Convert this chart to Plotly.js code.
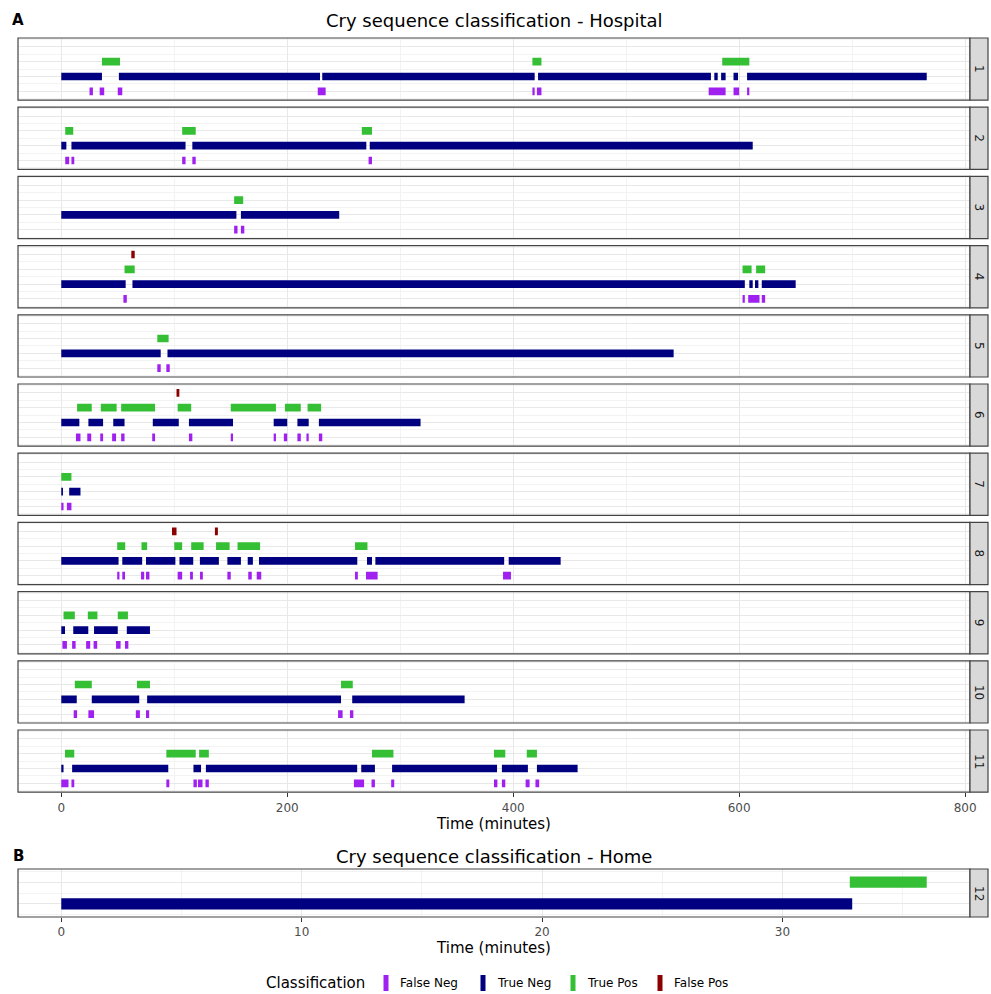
<!DOCTYPE html>
<html><head><meta charset="utf-8">
<script src="https://cdn.plot.ly/plotly-3.0.1.min.js"></script>
<style>body{margin:0;background:#fff}#chart{width:991px;height:994px}</style>
</head><body><div id="chart"></div>
<script>
// ---- DATA (minutes) : one entry per recording (1..11 hospital, 12 home) ----
const recordings = ['1','2','3','4','5','6','7','8','9','10','11','12'];
const classNames = ['False Neg','True Neg','True Pos','False Pos'];
const classColors = ['#a020f0','#000080','#35bf35','#8b0000'];

const trueNeg = [
  [[0,36],[51,229],[231,419],[422,575],[578,581],[584,588],[595,599],[607,766]],
  [[0,4.5],[9,110],[116,270],[273,612]],
  [[0,155],[159,246]],
  [[0,57],[63,605],[609,612],[614,617],[620,650]],
  [[0,88],[94,542]],
  [[0,16],[24,37],[46,56],[81,104],[113,152],[188,200],[209,219],[228,318]],
  [[0,1.5],[7,17]],
  [[0,50.7],[54,71.6],[75,101],[104.6,116.8],[122.7,139.5],[147,159],[165,169.6],[175,262],[270.6,275],[278,392],[396,442]],
  [[0,3.3],[10.6,23.9],[29,50],[58,78.5]],
  [[0,13.7],[27,69],[76,247.6],[257.5,357]],
  [[0,2],[9.6,94.7],[117,123.7],[128,261.9],[265.5,277.6],[292.8,385.7],[390,413],[421,457]],
  [[0,32.9]]
];
const truePos = [
  [[36,52],[417,425],[585,609]],
  [[3.5,10.6],[107,119],[266,275]],
  [[153,161]],
  [[56,65],[603,611],[615,623]],
  [[85,95]],
  [[14,27],[35,49],[53,83],[103,115],[150,190],[198,212],[218,230]],
  [[0,9]],
  [[49.5,56.6],[71,76],[100,107],[115,126],[137,149],[156,176],[260,271]],
  [[2,12],[23.5,32],[50,59]],
  [[12,27],[67,78.5],[247.6,258]],
  [[3.3,11.5],[93,119],[122,130.6],[275,294],[383,393],[412,421]],
  [[32.8,36]]
];
const falseNeg = [
  [[25,28],[34,38],[50,54],[227,234],[417,419],[421,425],[573,588],[595,600],[607,609]],
  [[3.5,7],[9,11.5],[107,110],[116,119],[272,275]],
  [[153,156],[159,162]],
  [[55,58],[603,605],[608,618],[620,623]],
  [[85,88],[93,96]],
  [[13,17],[23,26.5],[34.5,37],[45,48.5],[53,56],[80.5,83],[113,116],[150,152],[188,190],[197,200],[209,212],[217,219],[228,231]],
  [[0,2],[5,9]],
  [[49.5,51.5],[54,56.4],[70.6,73.4],[75,78],[103,107],[114,116.5],[122.8,125.3],[147,150],[165.5,168.6],[173,177],[260,262.5],[269.7,280],[391,398]],
  [[1,5],[9.6,12.7],[22,25.6],[28.6,31.8],[48.5,52.5],[56.4,59.4]],
  [[11,14],[24,29],[66,69.6],[75,77.8],[245,249],[255.5,258.5]],
  [[0,6.4],[9,11.5],[93,95.6],[117,120],[121,125],[127.6,130.6],[259,268],[274.6,277.6],[292,294.7],[383,386],[390,393],[411,414.5],[419.7,423]],
  []
];
const falsePos = [
  [],[],[],
  [[62,65]],
  [],
  [[102,104.5]],
  [],
  [[98,102],[136,138.6]],
  [],[],[],[]
];
const hospitalTicks = [0,200,400,600,800];
const homeTicks = [0,10,20,30];

// ---- LAYOUT GEOMETRY ----
const W = 991, H = 994, ML = 18, MR = 21;
const PW = W - ML - MR;
const py = p => 1 - p / H;
const px = p => (p - ML) / PW;
const font = 'DejaVu Sans, Arial, sans-serif';

const panels = [];
for (let i = 0; i < 11; i++) { const t = 38 + i * 69.2; panels.push([t, t + 62.2]); }
panels.push([869, 917]);

const traces = [];
const layout = {
  width: W, height: H, margin: {l: ML, r: MR, t: 0, b: 0},
  paper_bgcolor: '#fff', plot_bgcolor: '#fff', barmode: 'overlay', showlegend: false,
  font: {family: font, color: '#1a1a1a'},
  shapes: [], annotations: []
};

const xBase = {
  ticks: 'outside', ticklen: 4, tickcolor: '#333', tickwidth: 1,
  tickfont: {size: 12, color: '#4d4d4d'}, showgrid: true, gridcolor: '#e8e8e8', gridwidth: 1,
  zeroline: false, showline: false, fixedrange: true
};
layout.xaxis = Object.assign({}, xBase, {
  domain: [0, 1], anchor: 'y11', range: [-38.3, 804.3], tickmode: 'array', tickvals: hospitalTicks,
  minor: {tickmode: 'array', tickvals: [100,300,500,700], showgrid: true, gridcolor: '#f3f3f3', ticks: ''},
  title: {text: 'Time (minutes)', font: {size: 15, color: '#000'}, standoff: 2}
});
layout.xaxis2 = Object.assign({}, xBase, {
  domain: [0, 1], anchor: 'y12', range: [-1.8, 37.8], tickmode: 'array', tickvals: homeTicks,
  minor: {tickmode: 'array', tickvals: [5,15,25,35], showgrid: true, gridcolor: '#f3f3f3', ticks: ''},
  title: {text: 'Time (minutes)', font: {size: 15, color: '#000'}, standoff: 2}
});

recordings.forEach((rec, i) => {
  const home = i === 11;
  const yName = i === 0 ? 'y' : 'y' + (i + 1);
  const yKey = i === 0 ? 'yaxis' : 'yaxis' + (i + 1);
  const [top, bot] = panels[i];
  const nLev = home ? 2 : 4;
  layout[yKey] = {
    domain: [py(bot), py(top)], anchor: home ? 'x2' : 'x', range: [0.4, nLev + 0.6],
    tickmode: 'array', tickvals: home ? [1,2] : [1,2,3,4], showticklabels: false, ticks: '',
    showgrid: true, gridcolor: '#e8e8e8', zeroline: false, showline: false, fixedrange: true,
    minor: {tickmode: 'array', tickvals: home ? [0.5,1.5,2.5] : [0.5,1.5,2.5,3.5,4.5], showgrid: true, gridcolor: '#f3f3f3', ticks: ''}
  };
  const sets = [falseNeg[i], trueNeg[i], truePos[i], falsePos[i]];
  sets.forEach((segs, c) => {
    if (!segs.length) return;
    const level = home ? c : c + 1;
    traces.push({
      type: 'bar', orientation: 'h', name: classNames[c],
      base: segs.map(s => s[0]), x: segs.map(s => s[1] - s[0]), y: segs.map(() => level),
      width: 0.52, marker: {color: classColors[c], line: {width: 0}},
      xaxis: home ? 'x2' : 'x', yaxis: yName, hoverinfo: 'x+name'
    });
  });
  // panel border + strip
  layout.shapes.push({type: 'rect', xref: 'paper', yref: 'paper', x0: 0, x1: 1, y0: py(bot), y1: py(top),
    line: {color: '#444', width: 1.2}, fillcolor: 'rgba(0,0,0,0)', layer: 'above'});
  layout.shapes.push({type: 'rect', xref: 'paper', yref: 'paper', x0: 1, x1: 1 + 18 / PW, y0: py(bot), y1: py(top),
    line: {color: '#444', width: 1.2}, fillcolor: '#d9d9d9'});
  layout.annotations.push({xref: 'paper', yref: 'paper', x: 1 + 9 / PW, y: py((top + bot) / 2), text: rec,
    xanchor: 'center', yanchor: 'middle', showarrow: false, textangle: 90, font: {size: 12, color: '#1a1a1a'}});
});

// titles
layout.annotations.push(
  {xref: 'paper', yref: 'paper', x: px(494), y: py(20), xanchor: 'center', yanchor: 'middle', text: 'Cry sequence classification - Hospital', showarrow: false, font: {size: 18, color: '#000'}},
  {xref: 'paper', yref: 'paper', x: px(18), y: py(20), xanchor: 'center', yanchor: 'middle', text: '<b>A</b>', showarrow: false, font: {size: 15, color: '#000'}},
  {xref: 'paper', yref: 'paper', x: px(494), y: py(856), xanchor: 'center', yanchor: 'middle', text: 'Cry sequence classification - Home', showarrow: false, font: {size: 18, color: '#000'}},
  {xref: 'paper', yref: 'paper', x: px(18), y: py(856), xanchor: 'center', yanchor: 'middle', text: '<b>B</b>', showarrow: false, font: {size: 15, color: '#000'}}
);

// legend (drawn manually to reproduce ggplot's vertical line keys)
const legY = 983;
layout.annotations.push({xref: 'paper', yref: 'paper', x: px(264), y: py(legY), xanchor: 'left', yanchor: 'middle', text: 'Classification', showarrow: false, font: {size: 15, color: '#000'}});
const keyX = [386, 483, 573, 660];
classNames.forEach((nm, c) => {
  layout.shapes.push({type: 'rect', xref: 'paper', yref: 'paper', x0: px(keyX[c] - 2.5), x1: px(keyX[c] + 2.5), y0: py(legY + 8), y1: py(legY - 8),
    line: {width: 0}, fillcolor: classColors[c]});
  layout.annotations.push({xref: 'paper', yref: 'paper', x: px(keyX[c] + 12), y: py(legY), xanchor: 'left', yanchor: 'middle', text: nm, showarrow: false, font: {size: 12, color: '#000'}});
});

Plotly.newPlot('chart', traces, layout, {displayModeBar: false, staticPlot: true});
</script></body></html>
